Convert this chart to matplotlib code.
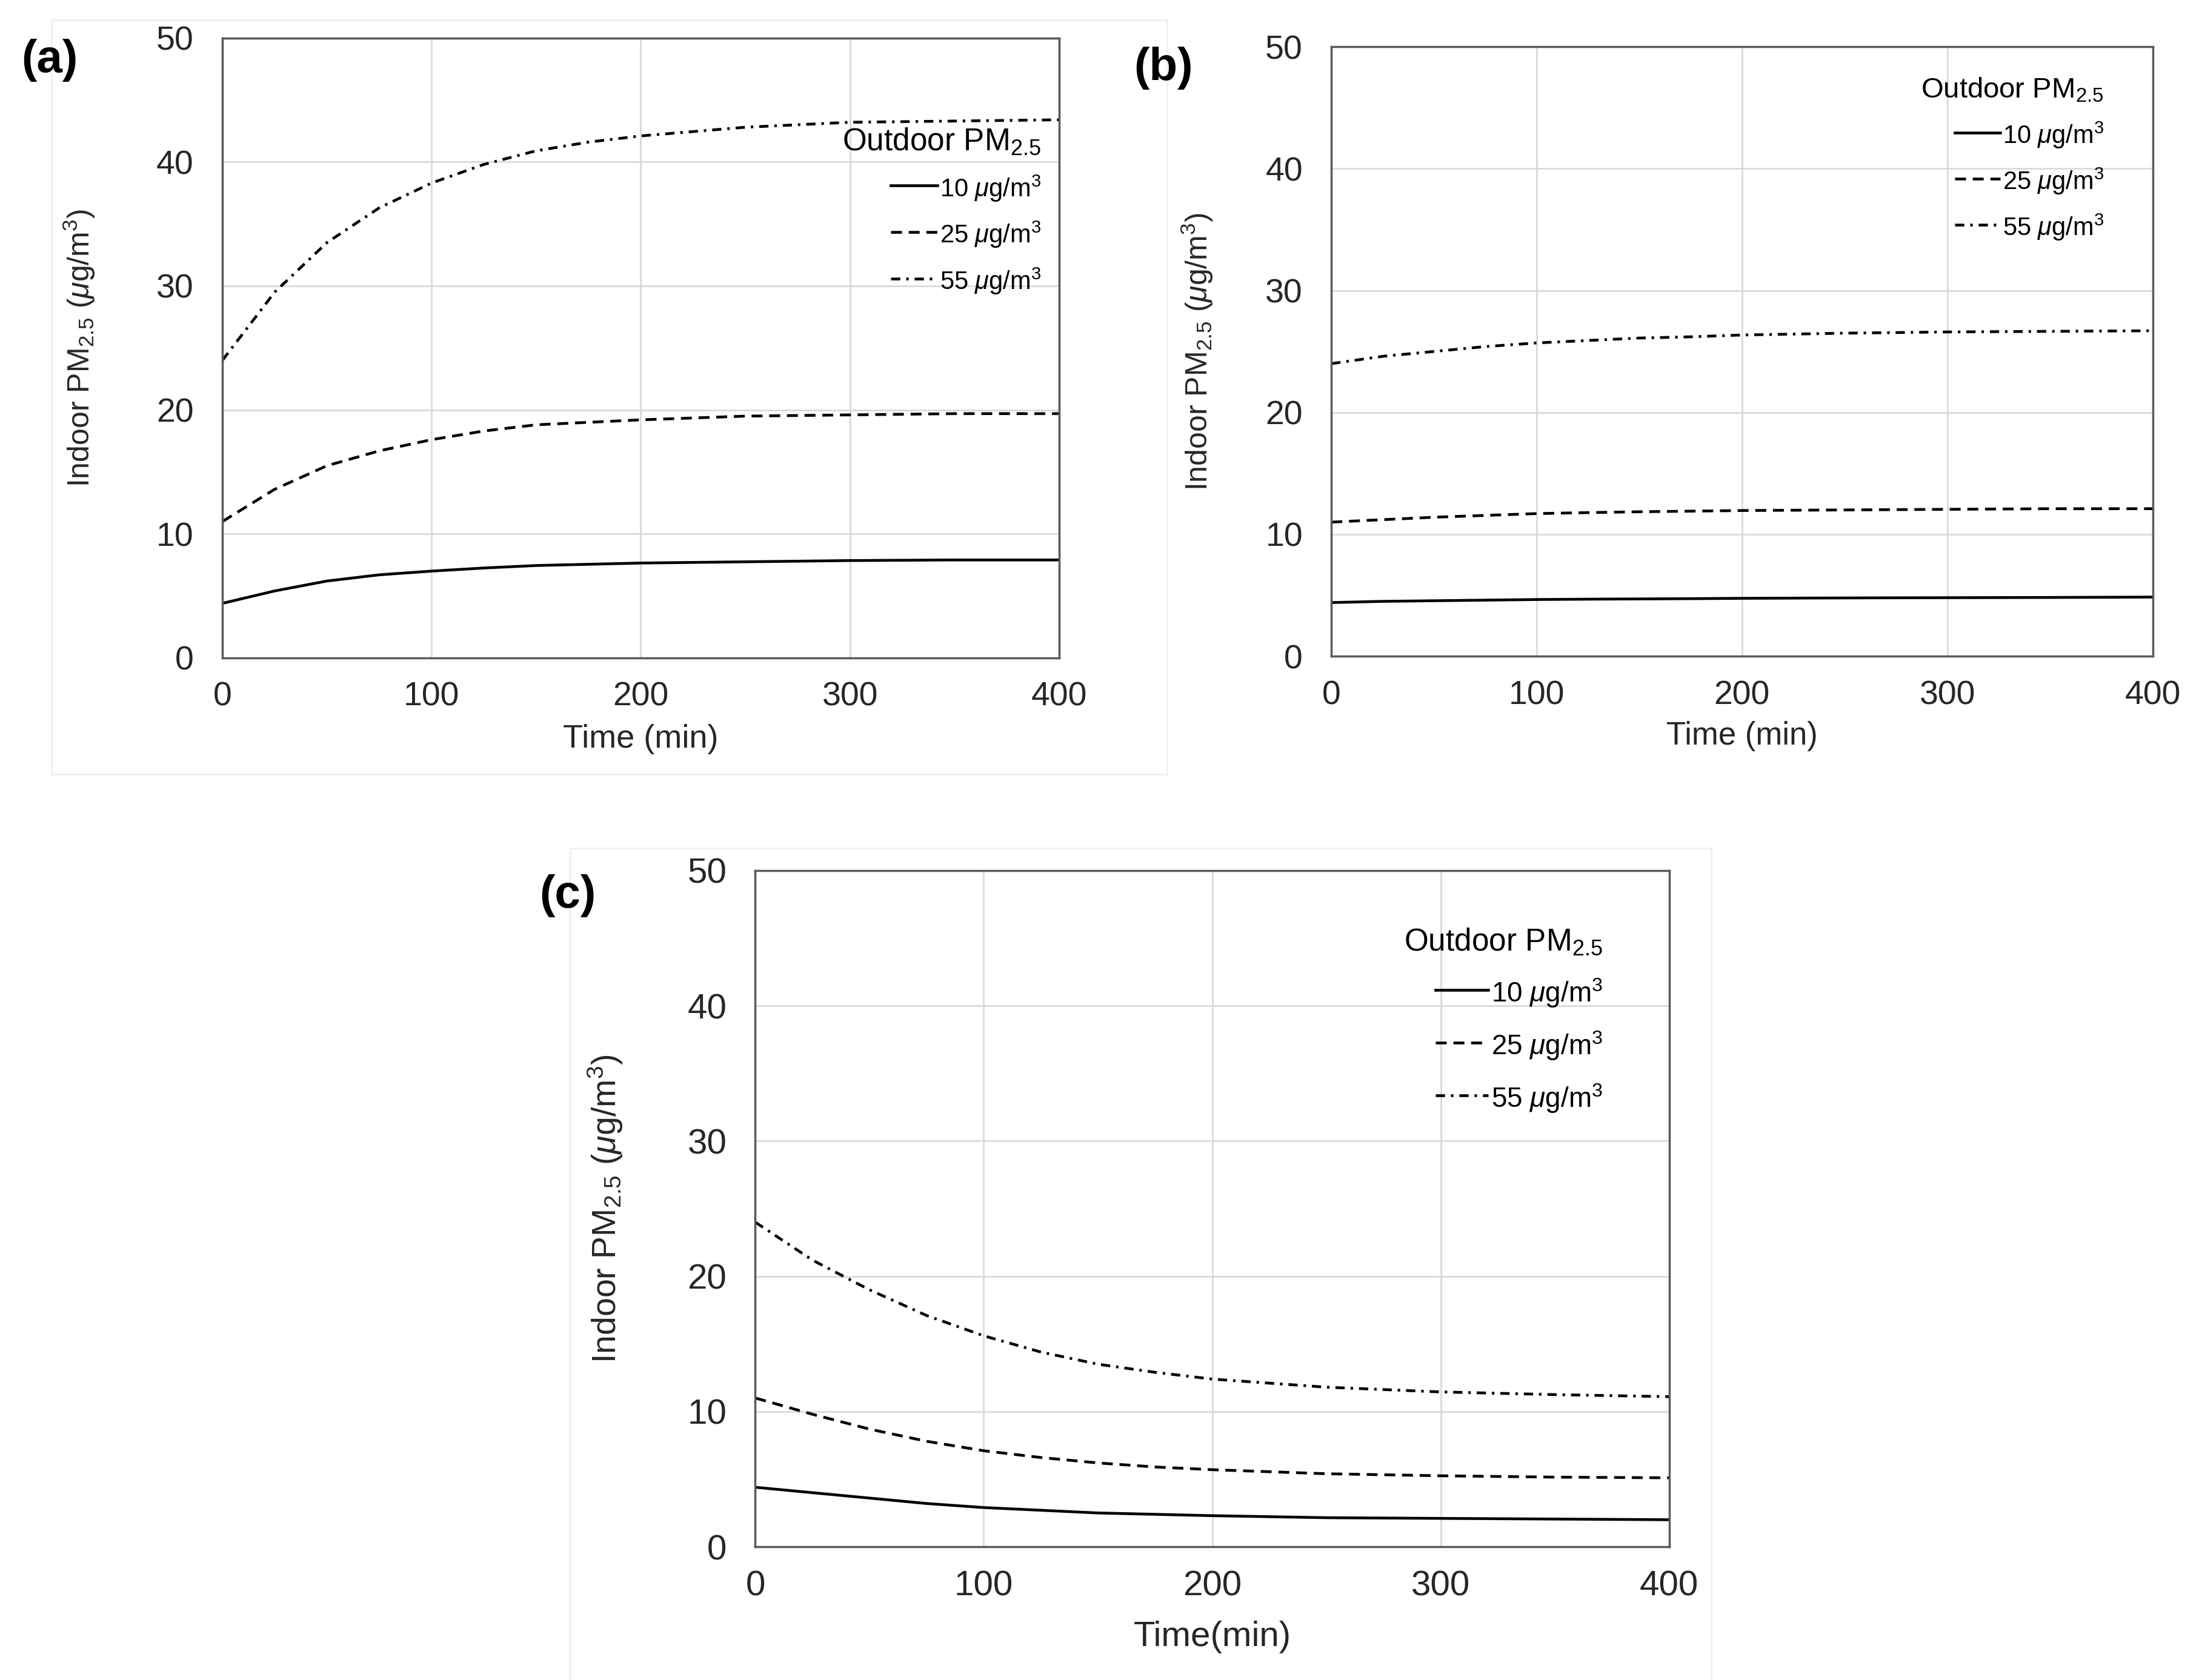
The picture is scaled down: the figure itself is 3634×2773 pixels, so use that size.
import numpy as np
import matplotlib
matplotlib.use('Agg')
import matplotlib.pyplot as plt
from matplotlib.patches import Rectangle

plt.rcParams['font.family'] = ['Liberation Sans', 'DejaVu Sans']
plt.rcParams['mathtext.fontset'] = 'custom'
plt.rcParams['mathtext.rm'] = 'Liberation Sans'
plt.rcParams['mathtext.it'] = 'Liberation Sans:italic'
plt.rcParams['lines.scale_dashes'] = False

# time axis (min) and values
t = [0, 25, 50, 75, 100, 125, 150, 175, 200, 250, 300, 350, 400]

a_10 = [4.4, 5.4, 6.2, 6.7, 7.0, 7.25, 7.45, 7.55, 7.65, 7.75, 7.85, 7.9, 7.9]
a_25 = [11.0, 13.6, 15.5, 16.7, 17.6, 18.3, 18.8, 19.0, 19.2, 19.5, 19.6, 19.7, 19.7]
a_55 = [24.0, 29.5, 33.5, 36.3, 38.3, 39.8, 40.9, 41.6, 42.1, 42.8, 43.2, 43.3, 43.4]

b_10 = [4.4, 4.5, 4.55, 4.6, 4.65, 4.68, 4.7, 4.72, 4.75, 4.78, 4.8, 4.82, 4.85]
b_25 = [11.0, 11.2, 11.4, 11.55, 11.7, 11.78, 11.85, 11.9, 11.95, 12.0, 12.05, 12.1, 12.1]
b_55 = [24.0, 24.6, 25.0, 25.4, 25.7, 25.9, 26.1, 26.2, 26.35, 26.5, 26.6, 26.65, 26.7]

c_10 = [4.4, 4.0, 3.6, 3.2, 2.9, 2.7, 2.5, 2.4, 2.3, 2.15, 2.1, 2.05, 2.0]
c_25 = [11.0, 9.8, 8.7, 7.8, 7.1, 6.6, 6.2, 5.9, 5.7, 5.4, 5.25, 5.15, 5.1]
c_55 = [24.0, 21.2, 19.0, 17.1, 15.6, 14.4, 13.5, 12.9, 12.4, 11.8, 11.45, 11.25, 11.1]

labels = ['10 $\\mu$g/m$^3$', '25 $\\mu$g/m$^3$', '55 $\\mu$g/m$^3$']
styles = [dict(linestyle='-'), dict(dashes=(13, 8)), dict(dashes=(11, 7, 3, 7))]
xticks = [0, 100, 200, 300, 400]
yticks = [0, 10, 20, 30, 40, 50]

fig = plt.figure(figsize=(36.34, 27.73), dpi=100)

# faint panel borders
for (x0, y0, w, h) in [(0.0234, 0.539, 0.5066, 0.449),
                       (0.259, -0.01, 0.518, 0.505)]:
    fig.patches.append(Rectangle((x0, y0), w, h, transform=fig.transFigure,
                                 fill=False, edgecolor='#f0f0f0', lw=2))

# tag, axes rect, series, xlabel, legend anchor, tag position, sizes
panels = [
    ('(a)', [0.101, 0.6084, 0.380, 0.369], (a_10, a_25, a_55), 'Time (min)',
     (0.741, 0.857), (0.0096, 0.964),
     dict(tick=40, lab=39, ylab=36, ltitle=37, ltext=30, lsp=0.66, hl=1.85),
     (-0.150, -0.107)),
    ('(b)', [0.6046, 0.6094, 0.373, 0.3628], (b_10, b_25, b_55), 'Time (min)',
     (0.718, 0.951), (0.515, 0.9596),
     dict(tick=40, lab=38, ylab=36, ltitle=34, ltext=30, lsp=0.64, hl=1.8),
     (-0.142, -0.106)),
    ('(c)', [0.343, 0.0793, 0.415, 0.4025], (c_10, c_25, c_55), 'Time(min)',
     (0.710, 0.917), (0.245, 0.4667),
     dict(tick=42, lab=42, ylab=40, ltitle=37, ltext=33, lsp=0.72, hl=1.9),
     (-0.143, -0.109)),
]

for tag, rect, series, xlabel, leg_pos, tag_pos, sz, lab_pos in panels:
    ax = fig.add_axes(rect)
    for y, lab, st in zip(series, labels, styles):
        ax.plot(t, y, color='black', lw=3.3, label=lab, **st)
    ax.set_xlim(0, 400)
    ax.set_ylim(0, 50)
    ax.set_xticks(xticks)
    ax.set_yticks(yticks)
    ax.grid(True, color='#d9d9d9', lw=2)
    ax.set_axisbelow(True)
    for s in ax.spines.values():
        s.set_color('#595959')
        s.set_linewidth(2.5)
    ax.tick_params(length=0, labelsize=sz['tick'], colors='#262626')
    ax.tick_params(axis='x', pad=28)
    ax.tick_params(axis='y', pad=34)
    ax.set_xlabel(xlabel, fontsize=sz['lab'], color='#262626')
    ax.set_ylabel('Indoor PM$_{2.5}$ ($\\mathit{\\mu}$g/m$^3$)', fontsize=sz['ylab'],
                  color='#262626')
    ax.yaxis.set_label_coords(lab_pos[0], 0.5)
    ax.xaxis.set_label_coords(0.5, lab_pos[1])
    leg = ax.legend(loc='upper left', bbox_to_anchor=leg_pos, frameon=False,
                    borderpad=0, borderaxespad=0,
                    title='Outdoor PM$_{2.5}$', title_fontsize=sz['ltitle'],
                    fontsize=sz['ltext'], handlelength=sz['hl'], handletextpad=0.1,
                    handleheight=1.3, labelspacing=sz['lsp'])
    leg._legend_box.align = 'right'
    fig.text(tag_pos[0], tag_pos[1], tag, fontsize=55, fontweight='bold',
             va='center', ha='left')

fig.savefig('out.png', dpi=100)
